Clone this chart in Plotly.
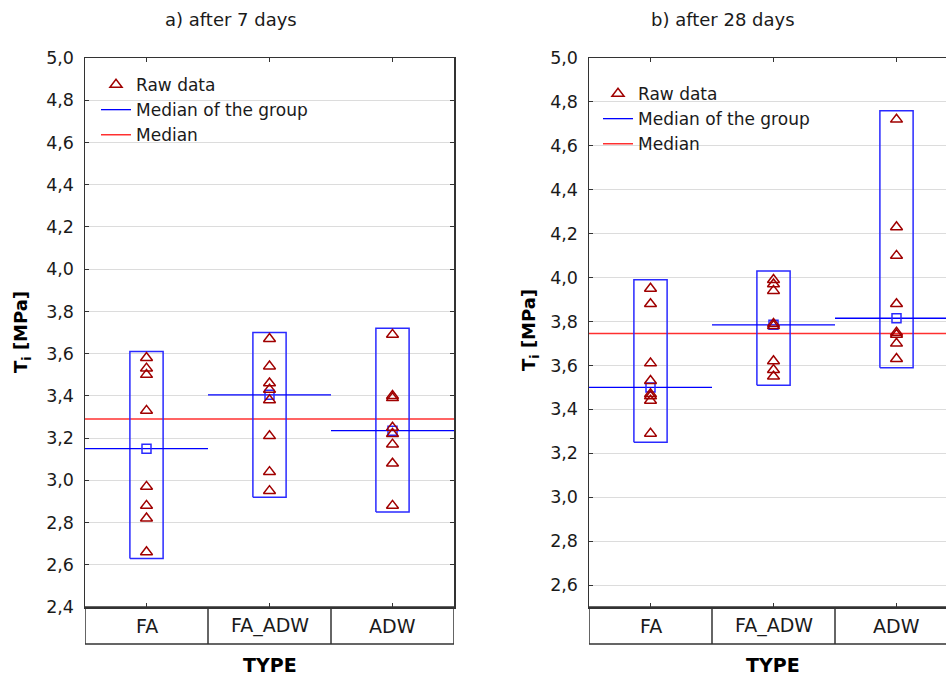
import numpy as np
import plotly.graph_objects as go

# ---------------- data ----------------
categories = ["FA", "FA_ADW", "ADW"]

days7_FA = [3.58, 3.53, 3.50, 3.33, 2.97, 2.88, 2.82, 2.66]
days7_FA_ADW = [3.67, 3.54, 3.46, 3.43, 3.38, 3.21, 3.04, 2.95]
days7_ADW = [3.69, 3.40, 3.39, 3.25, 3.22, 3.17, 3.08, 2.88]

days28_FA = [3.95, 3.88, 3.61, 3.53, 3.47, 3.46, 3.44, 3.29]
days28_FA_ADW = [3.99, 3.97, 3.94, 3.79, 3.78, 3.62, 3.58, 3.55]
days28_ADW = [4.72, 4.23, 4.10, 3.88, 3.75, 3.74, 3.70, 3.63]

panel_titles = ["a) after 7 days", "b) after 28 days"]
y_title = "<b>T<sub>i</sub> [MPa]</b>"
x_title = "<b>TYPE</b>"

# ---------------- style ----------------
W, H = 946, 677
FONT = "DejaVu Sans"
TXT = "#1a1a1a"
RAW_COLOR = "#a00000"
BLUE = "#2a2aff"
RED = "#ff3030"


def fx(px):
    return px / W


def fy(py):
    return 1 - py / H


fig = go.Figure()

panels = [
    dict(groups=[days7_FA, days7_FA_ADW, days7_ADW], xa="x", ya="y", legend="legend", pad=0.03),
    dict(groups=[days28_FA, days28_FA_ADW, days28_ADW], xa="x2", ya="y2", legend="legend2", pad=0.04),
]

half_box = 0.135
for p in panels:
    groups = p["groups"]
    xa, ya, lg = p["xa"], p["ya"], p["legend"]
    n = len(categories)
    all_vals = np.concatenate([np.array(g) for g in groups])
    overall_med = float(np.median(all_vals))

    # overall median
    fig.add_trace(go.Scatter(
        x=[-0.5, n - 0.5], y=[overall_med, overall_med], mode="lines",
        line=dict(color=RED, width=1.5), name="Median", legend=lg,
        legendrank=3, xaxis=xa, yaxis=ya, hoverinfo="skip"))

    # boxes (range)
    bx, by = [], []
    for i, g in enumerate(groups):
        lo, hi = min(g) - p["pad"], max(g) + p["pad"]
        bx += [i - half_box, i + half_box, i + half_box, i - half_box, i - half_box, None]
        by += [lo, lo, hi, hi, lo, None]
    fig.add_trace(go.Scatter(
        x=bx, y=by, mode="lines", line=dict(color=BLUE, width=1.5),
        showlegend=False, xaxis=xa, yaxis=ya, hoverinfo="skip"))

    # group medians
    mx, my, sx, sy = [], [], [], []
    for i, g in enumerate(groups):
        m = float(np.median(g))
        mx += [i - 0.5, i + 0.5, None]
        my += [m, m, None]
        sx.append(i)
        sy.append(m)
    fig.add_trace(go.Scatter(
        x=mx, y=my, mode="lines", line=dict(color="#0000ff", width=1.3),
        name="Median of the group", legend=lg, legendrank=2,
        xaxis=xa, yaxis=ya, hoverinfo="skip"))
    fig.add_trace(go.Scatter(
        x=sx, y=sy, mode="markers",
        marker=dict(symbol="square-open", size=9, color=BLUE, line=dict(width=1.5)),
        showlegend=False, xaxis=xa, yaxis=ya))

    # raw data
    rx, ry = [], []
    for i, g in enumerate(groups):
        rx += [i] * len(g)
        ry += list(g)
    fig.add_trace(go.Scatter(
        x=rx, y=ry, mode="markers",
        marker=dict(symbol="triangle-up-open", size=10.5, color=RAW_COLOR, line=dict(width=1.5)),
        name="Raw data", legend=lg, legendrank=1, xaxis=xa, yaxis=ya))

# ---------------- axes ----------------
common_x = dict(showline=True, linecolor="#333", linewidth=1.5, mirror="ticks",
                ticks="inside", ticklen=4, tickcolor="#333", tickwidth=1,
                tickvals=list(range(len(categories))), showticklabels=False,
                showgrid=False, zeroline=False, fixedrange=True, automargin=False)
common_y = dict(showline=True, linecolor="#333", linewidth=1.5,
                ticks="inside", ticklen=4, tickcolor="#333", tickwidth=1,
                dtick=0.2, tick0=0, tickformat=".1f",
                tickfont=dict(family=FONT, size=17.5, color=TXT),
                ticklabelstandoff=6, automargin=False,
                showgrid=True, gridcolor="#dcdcdc", gridwidth=1, zeroline=False)

plot_top, plot_bot = 58, 607
left_l, left_r = 85, 454
right_l = 589
cat_px = (left_r - left_l) / 3

fig.update_layout(
    xaxis=dict(domain=[fx(left_l), fx(left_r)], range=[-0.5, 2.5], anchor="y", **common_x),
    yaxis=dict(domain=[fy(plot_bot), fy(plot_top)], range=[2.4, 5.0], anchor="x",
               mirror="ticks", **common_y),
    xaxis2=dict(domain=[fx(right_l), 1.0], range=[-0.5, -0.5 + (W - right_l) / cat_px],
                anchor="y2", **common_x),
    # right panel is cut by the picture edge: no mirrored right-hand line
    yaxis2=dict(domain=[fy(plot_bot), fy(plot_top)], range=[2.5, 5.0], anchor="x2",
                mirror=False, **common_y),
)

# ---------------- legends ----------------
leg_common = dict(xanchor="left", yanchor="top", bgcolor="rgba(0,0,0,0)",
                  font=dict(family=FONT, size=17, color=TXT), itemwidth=30,
                  tracegroupgap=0, borderwidth=0)
fig.update_layout(
    legend=dict(x=fx(96), y=fy(67), **leg_common),
    legend2=dict(x=fx(598), y=fy(76), **leg_common),
)

# ---------------- category table, titles ----------------
shapes = []
annotations = []
tab_top, tab_bot = 607, 644
for xa, title_x, ytitle_x, ytitle_y, xtitle_x, ptitle in [
    ("x", 231, 22, 332, 270, panel_titles[0]),
    ("x2", 723, 530, 330, 773, panel_titles[1]),
]:
    n = len(categories)
    shapes.append(dict(type="rect", xref=xa, yref="paper", x0=-0.5, x1=n - 0.5,
                       y0=fy(tab_bot), y1=fy(tab_top), line=dict(color="#333", width=1.5)))
    for k in range(1, n):
        shapes.append(dict(type="line", xref=xa, yref="paper", x0=k - 0.5, x1=k - 0.5,
                           y0=fy(tab_bot), y1=fy(tab_top), line=dict(color="#333", width=1.5)))
    for i, c in enumerate(categories):
        annotations.append(dict(text=c, xref=xa, yref="paper", x=i, y=fy((tab_top + tab_bot) / 2),
                                showarrow=False, xanchor="center", yanchor="middle",
                                font=dict(family=FONT, size=19, color=TXT)))
    annotations.append(dict(text=ptitle, xref="paper", yref="paper", x=fx(title_x), y=fy(20),
                            showarrow=False, xanchor="center", yanchor="middle",
                            font=dict(family=FONT, size=18, color=TXT)))
    annotations.append(dict(text=y_title, xref="paper", yref="paper", x=fx(ytitle_x), y=fy(ytitle_y),
                            showarrow=False, xanchor="center", yanchor="middle", textangle=-90,
                            font=dict(family=FONT, size=18, color="#000")))
    annotations.append(dict(text=x_title, xref="paper", yref="paper", x=fx(xtitle_x), y=fy(665),
                            showarrow=False, xanchor="center", yanchor="middle",
                            font=dict(family=FONT, size=19, color="#000")))

fig.update_layout(
    width=W, height=H, margin=dict(l=0, r=0, t=0, b=0, pad=0, autoexpand=False),
    paper_bgcolor="white", plot_bgcolor="white",
    separators=", ", showlegend=True,
    shapes=shapes, annotations=annotations,
    font=dict(family=FONT, color=TXT),
)

fig.write_html(
    "out.html",
    config={"displayModeBar": False, "staticPlot": True},
    post_script="document.body.style.margin='0';document.body.style.overflow='hidden';",
)
